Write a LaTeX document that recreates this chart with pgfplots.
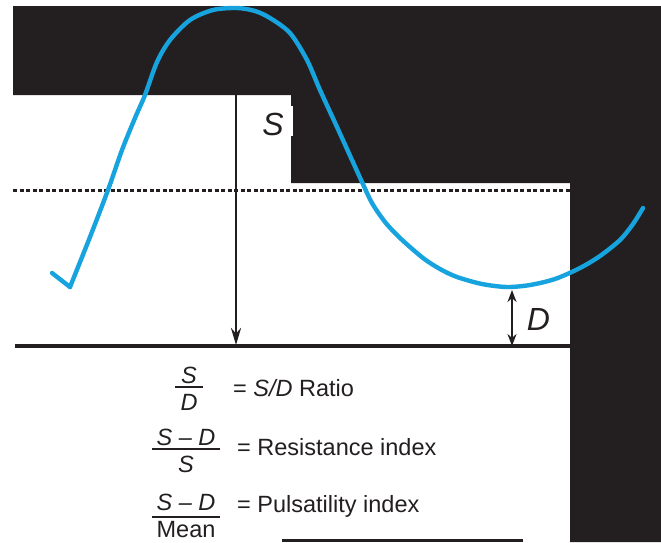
\documentclass[border=0pt]{standalone}
\usepackage{pgfplots}
\pgfplotsset{compat=1.18}
\usepackage{fontspec}
\setmainfont{Liberation Sans}
\usetikzlibrary{arrows.meta}
\definecolor{ink}{HTML}{231F20}
\definecolor{flow}{RGB}{22,163,222}

\begin{document}
\begin{tikzpicture}
\begin{axis}[
  width=661pt, height=542pt, scale only axis,
  xmin=0, xmax=661, ymin=0, ymax=542,
  y dir=reverse,
  hide axis, clip=false,
]
% background
\fill[white] (axis cs:0,0) rectangle (axis cs:661,542);

% S arrow (peak down to baseline)
\draw[ink, line width=2.8pt, -{Stealth[length=17pt,width=10pt]}]
  (axis cs:236,60) -- (axis cs:236,345);

% dark backdrop
\fill[ink] (axis cs:13,6) -- (axis cs:661,6) -- (axis cs:661,542)
  -- (axis cs:570,542) -- (axis cs:570,183) -- (axis cs:291,183)
  -- (axis cs:291,95) -- (axis cs:13,95) -- cycle;
\fill[white] (axis cs:255,106) rectangle (axis cs:293,136);
\node[ink, inner sep=0pt] at (axis cs:273,124.5)
  {\fontsize{32}{36}\selectfont\itshape S};

% dotted mean line and baseline
\addplot[ink, line width=3pt, dash pattern=on 4pt off 2.5pt]
  coordinates {(13,190) (570,190)};
\addplot[ink, line width=3.6pt] coordinates {(15,346) (570,346)};

% Doppler waveform
\addplot[flow, line width=4.4pt, line cap=round, line join=round]
  coordinates {(52,273) (70,287)};
\addplot[flow, line width=4.4pt, line cap=round, smooth, tension=0.5]
  coordinates {
    (70,287) (90,237) (108,190) (122,150) (135,118) (145,95)
    (157,62) (170,40) (190,20) (213,10) (237,8) (255,11)
    (270,18) (290,33) (307,60) (320,90) (337,127) (352,160)
    (362,182) (372,203) (385,222) (400,238) (423,258) (440,269)
    (457,277) (482,284) (507,287) (530,285) (555,279) (580,268)
    (600,256) (620,240) (633,224) (643,208)
  };

% D arrow
\draw[ink, line width=2.6pt, {Stealth[length=12pt,width=9pt]}-{Stealth[length=12pt,width=9pt]}]
  (axis cs:512,290) -- (axis cs:512,346);
\node[ink, inner sep=0pt] at (axis cs:538.5,319)
  {\fontsize{32}{36}\selectfont\itshape D};

% index formulas
\begin{scope}[every node/.style={ink, inner sep=0pt, font=\fontsize{23.5}{28}\selectfont}]
\node[anchor=base] at (axis cs:189,383) {\itshape S};
\draw[ink, line width=1.5pt] (axis cs:175,387) -- (axis cs:203,387);
\node[anchor=base] at (axis cs:189,410) {\itshape D};
\node[anchor=base west] at (axis cs:233,396) {= \textit{S/D} Ratio};

\node[anchor=base] at (axis cs:186,445) {\itshape S – D};
\draw[ink, line width=1.5pt] (axis cs:152,449) -- (axis cs:220,449);
\node[anchor=base] at (axis cs:186,472) {\itshape S};
\node[anchor=base west] at (axis cs:237,455) {= Resistance index};

\node[anchor=base] at (axis cs:186,510) {\itshape S – D};
\draw[ink, line width=1.5pt] (axis cs:152,517) -- (axis cs:220,517);
\node[anchor=base] at (axis cs:186,537) {Mean};
\node[anchor=base west] at (axis cs:237,512) {= Pulsatility index};
\end{scope}

% clipped caption line at the bottom edge
\fill[ink] (axis cs:282,539) rectangle (axis cs:523,542);
\end{axis}
\end{tikzpicture}
\end{document}
